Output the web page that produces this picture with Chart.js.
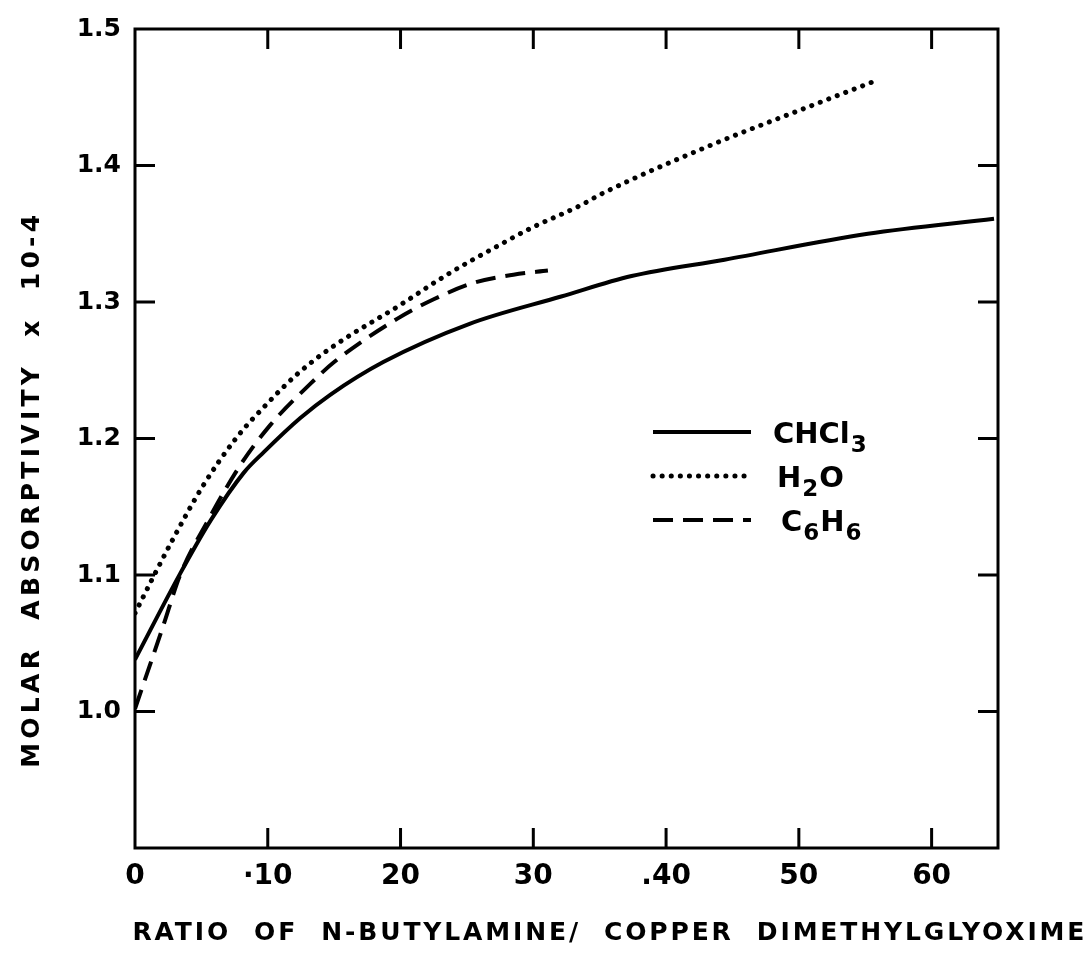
<!DOCTYPE html>
<html>
<head>
<meta charset="utf-8">
<script src="https://cdn.jsdelivr.net/npm/chart.js@4"></script>
<style>
  html, body { margin: 0; padding: 0; background: #fff; }
  canvas { display: block; }
</style>
</head>
<body>
<canvas id="myChart" width="1088" height="955"></canvas>
<script>
// CHCl3 (plná čiara)
const ratioChcl3 = [0, 3.4, 5.7, 8.2, 9.7, 12.45, 14.7, 18.7, 25.2, 32.1, 37.4, 44.4, 55.2, 64.7];
const absChcl3 = [1.038, 1.101, 1.140, 1.175, 1.190, 1.215, 1.232, 1.256, 1.284, 1.304, 1.319, 1.331, 1.350, 1.361];

// H2O (bodkovaná)
const ratioH2o = [0, 1.4, 2.9, 5.1, 7.6, 10, 12.2, 14.7, 20, 23.5, 27.5, 29.8, 33.6, 35.1, 43.4, 50.2, 55.5];
const absH2o = [1.072, 1.099, 1.127, 1.165, 1.200, 1.226, 1.247, 1.266, 1.298, 1.320, 1.342, 1.354, 1.371, 1.379, 1.415, 1.441, 1.461];

// C6H6 (čiarkovaná)
const ratioC6h6 = [0, 2.1, 3.4, 5.5, 7.9, 10.2, 13.2, 15, 19.8, 22.5, 25.5, 28.5, 31.1];
const absC6h6 = [1.002, 1.062, 1.100, 1.140, 1.180, 1.210, 1.240, 1.256, 1.288, 1.302, 1.314, 1.320, 1.323];

const xTicks = [0, 10, 20, 30, 40, 50, 60];
const xTickLabels = ['0', '·10', '20', '30', '.40', '50', '60'];
const yTicks = [1.0, 1.1, 1.2, 1.3, 1.4, 1.5];
// názov série: [hlavný text, dolný index] po kúskoch
const seriesNames = ['CHCl3', 'H2O', 'C6H6'];
const seriesParts = [
    [['CHCl', false], ['3', true]],
    [['H', false], ['2', true], ['O', false]],
    [['C', false], ['6', true], ['H', false], ['6', true]]
];
const xTitle = 'RATIO  OF  N-BUTYLAMINE/  COPPER  DIMETHYLGLYOXIME';
const yTitle = 'MOLAR  ABSORPTIVITY  x  10-4';

const FONT = '"DejaVu Sans", sans-serif';

function toPoints(xs, ys) {
    return xs.map((x, i) => ({ x: x, y: ys[i] }));
}

// text roztiahnutý na danú šírku (písmo ako v pôvodnom grafe)
function fitText(ctx, text, x, y, width) {
    ctx.letterSpacing = '0px';
    const w = ctx.measureText(text).width;
    const sp = (width - w) / (text.length - 1);
    ctx.letterSpacing = sp + 'px';
    ctx.fillText(text, x + sp / 2, y);
    ctx.letterSpacing = '0px';
}

// rám, tiky dovnútra, popisy osí a legenda
const framePlugin = {
    id: 'frame',
    afterDatasetsDraw(chart) {
        const ctx = chart.ctx;
        const a = chart.chartArea;
        const xs = chart.scales.x;
        const ys = chart.scales.y;
        const tick = 20;

        ctx.save();
        ctx.strokeStyle = '#000';
        ctx.lineWidth = 3;
        ctx.strokeRect(a.left, a.top, a.right - a.left, a.bottom - a.top);

        ctx.beginPath();
        xTicks.forEach(v => {
            if (v === 0) return;
            const px = xs.getPixelForValue(v);
            ctx.moveTo(px, a.bottom); ctx.lineTo(px, a.bottom - tick);
            ctx.moveTo(px, a.top); ctx.lineTo(px, a.top + tick);
        });
        yTicks.forEach(v => {
            if (v === 1.5) return;
            const py = ys.getPixelForValue(v);
            ctx.moveTo(a.left, py); ctx.lineTo(a.left + tick, py);
            ctx.moveTo(a.right, py); ctx.lineTo(a.right - tick, py);
        });
        ctx.stroke();

        // legenda
        const legX = a.left + 518, legY = a.top + 403, step = 44;
        chart.data.datasets.forEach((ds, i) => {
            const y = legY + i * step;
            ctx.beginPath();
            ctx.lineWidth = ds.borderWidth;
            ctx.lineCap = ds.borderCapStyle || 'butt';
            ctx.setLineDash(ds.borderDash || []);
            ctx.moveTo(legX, y);
            ctx.lineTo(legX + 98, y);
            ctx.stroke();
            ctx.setLineDash([]);
            ctx.fillStyle = '#000';
            ctx.textAlign = 'left';
            ctx.textBaseline = 'alphabetic';
            let tx = legX + 120 + i * 4;
            seriesParts[i].forEach(([t, sub]) => {
                ctx.font = (sub ? 'bold 23px ' : 'bold 29px ') + FONT;
                ctx.fillText(t, tx, y + (sub ? 20 : 11));
                tx += ctx.measureText(t).width + 1;
            });
        });

        // popisy osí
        ctx.fillStyle = '#000';
        ctx.font = 'bold 25px ' + FONT;
        ctx.textAlign = 'left';
        ctx.textBaseline = 'middle';
        fitText(ctx, xTitle, 131, 933, 952);

        ctx.translate(32, 770);
        ctx.rotate(-Math.PI / 2);
        fitText(ctx, yTitle, 0, 0, 553);
        ctx.restore();
    }
};

const lineStyle = { showLine: true, pointRadius: 0, fill: false, borderColor: '#000', cubicInterpolationMode: 'monotone' };

new Chart(document.getElementById('myChart').getContext('2d'), {
    type: 'scatter',
    data: {
        datasets: [
            { ...lineStyle, label: seriesNames[0], data: toPoints(ratioChcl3, absChcl3), borderWidth: 4 },
            { ...lineStyle, label: seriesNames[1], data: toPoints(ratioH2o, absH2o), borderWidth: 5, borderDash: [0.1, 9], borderCapStyle: 'round' },
            { ...lineStyle, label: seriesNames[2], data: toPoints(ratioC6h6, absC6h6), borderWidth: 4, borderDash: [20, 10] }
        ]
    },
    options: {
        responsive: false,
        animation: false,
        devicePixelRatio: 1,
        layout: { padding: { left: 0, top: 27, right: 90, bottom: 0 } },
        plugins: { legend: { display: false }, tooltip: { enabled: false } },
        scales: {
            x: {
                type: 'linear',
                min: 0,
                max: 65,
                afterBuildTicks: s => { s.ticks = xTicks.map(v => ({ value: v })); },
                afterFit: s => { s.height = 107; },
                grid: { display: false, drawTicks: false },
                border: { display: false },
                ticks: {
                    color: '#000',
                    padding: 12,
                    font: { family: FONT, size: 28, weight: 'bold' },
                    callback: v => xTickLabels[xTicks.indexOf(v)]
                }
            },
            y: {
                min: 0.9,
                max: 1.5,
                afterBuildTicks: s => { s.ticks = yTicks.map(v => ({ value: v })); },
                afterFit: s => { s.width = 135; },
                grid: { display: false, drawTicks: false },
                border: { display: false },
                ticks: {
                    color: '#000',
                    padding: 14,
                    font: { family: FONT, size: 25, weight: 'bold' },
                    callback: v => v.toFixed(1)
                }
            }
        }
    },
    plugins: [framePlugin]
});
</script>
</body>
</html>
